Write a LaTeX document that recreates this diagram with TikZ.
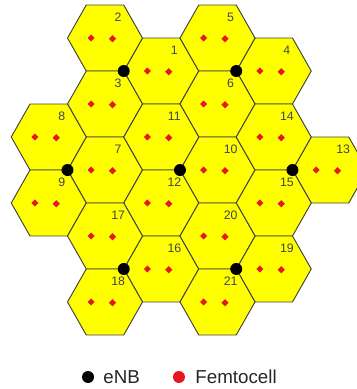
\documentclass[tikz,border=0pt]{standalone}
\usepackage{fontspec}
\setmainfont{Liberation Sans}
\usetikzlibrary{shapes.geometric,positioning}
\definecolor{cellyellow}{RGB}{255,255,0}
\definecolor{femtored}{RGB}{232,22,30}
\definecolor{labelgray}{RGB}{62,68,78}
\tikzset{
  cell/.style={fill=cellyellow, draw=black!75, line width=0.8pt},
  enb/.style={circle, fill=black, inner sep=0pt, minimum size=0.36cm},
  femto/.style={diamond, fill=femtored, inner sep=0pt, minimum size=0.22cm},
  celllabel/.style={text=labelgray, inner sep=0pt, font=\fontsize{10.5}{12}\selectfont},
  legendtext/.style={inner sep=0pt, text=black!85, font=\fontsize{16}{19}\selectfont}
}
\begin{document}
\begin{tikzpicture}[x=1.125cm, y=1.143cm]
    \useasboundingbox (-4.8,4.462) rectangle (4.72,-5.748);
    \clip (-4.8,4.462) rectangle (4.72,-5.748);

    % sites: position / right, upper-left and lower-left cell
    \foreach \sx/\sy/\ca/\cb/\cc in {-1.5/2.598/1/2/3, 1.5/2.598/4/5/6, -3/0/7/8/9, 0/0/10/11/12, 3/0/13/14/15, -1.5/-2.598/16/17/18, 1.5/-2.598/19/20/21}{
        \coordinate (site\cc) at (\sx,\sy);
        \foreach \c/\dx/\dy in {\ca/1/0, \cb/-0.5/0.866, \cc/-0.5/-0.866}{
            \coordinate (cell\c) at (\sx+\dx,\sy+\dy);
            \draw[cell] (cell\c) +(0:1) -- +(60:1) -- +(120:1) -- +(180:1) -- +(240:1) -- +(300:1) -- cycle;
            \node[femto] (femtoa\c) at ([shift={(-0.37,0)}]cell\c) {};
            \node[femto] (femtob\c) at ([shift={(0.2,-0.02)}]cell\c) {};
            \node[celllabel] (label\c) at ([shift={(0.35,0.54)}]cell\c) {\c};
        }
    }

    % base stations on the shared corners
    \foreach \s in {3,6,9,12,15,18,21}
        \node[enb] (enb\s) at (site\s) {};

    % legend
    \node[enb] (legenb) at (-2.453,-5.433) {};
    \node[legendtext, right=0.27cm of legenb] (legenblabel) {eNB};
    \node[circle, fill=femtored, inner sep=0pt, minimum size=0.36cm] (legfemto) at (-0.027,-5.433) {};
    \node[legendtext, right=0.3cm of legfemto] (legfemtolabel) {Femtocell};
\end{tikzpicture}
\end{document}
